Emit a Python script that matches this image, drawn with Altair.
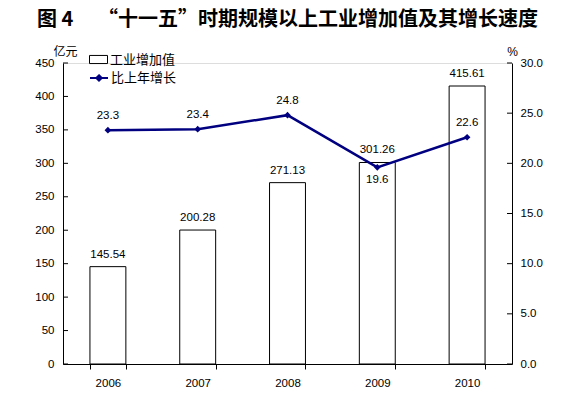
import altair as alt
import pandas as pd

years = ["2006", "2007", "2008", "2009", "2010"]
values = [145.54, 200.28, 271.13, 301.26, 415.61]
growth = [23.3, 23.4, 24.8, 19.6, 22.6]
label_below = [False, False, False, True, False]
left_ticks = [0, 50, 100, 150, 200, 250, 300, 350, 400, 450]
right_ticks = [0, 5, 10, 15, 20, 25, 30]

W, H = 449, 301
NUM_FONT = "Liberation Sans"
CJK_FONT = "Noto Sans CJK SC"
NAVY = "#000080"

df = pd.DataFrame({
    "year": years, "value": values, "growth": growth,
    "below": label_below,
    "s1": ["工业增加值"] * 5, "s2": ["比上年增长"] * 5,
})
lt_df = pd.DataFrame({"t": left_ticks})
rt_df = pd.DataFrame({"t": right_ticks})

xs = alt.Scale(paddingInner=0.6, paddingOuter=0.3)
xaxis = alt.Axis(title=None, labelAngle=0, tickBand="extent", tickSize=5,
                 tickColor="black", domainColor="black", labelFont=NUM_FONT,
                 labelFontSize=11.5, labelColor="black", labelPadding=8, grid=False)
X = alt.X("year:N", scale=xs, axis=xaxis)

yl_scale = alt.Scale(domain=[0, 450], nice=False, zero=True)
yr_scale = alt.Scale(domain=[0, 30], nice=False, zero=True)
yl_axis = alt.Axis(orient="left", values=left_ticks, ticks=False, tickSize=0, grid=False,
                   domainColor="black", labelFont=NUM_FONT, labelFontSize=11.5,
                   labelColor="black", labelPadding=9, title="亿元", titleAngle=0,
                   titleX=2, titleY=-12, titleAlign="center", titleBaseline="middle",
                   titleFont=CJK_FONT, titleFontSize=12, titleFontWeight="normal",
                   titleColor="black")
yr_axis = alt.Axis(orient="right", values=right_ticks, format=".1f", ticks=False, tickSize=0,
                   grid=False, domainColor="black", labelFont=NUM_FONT, labelFontSize=11.5,
                   labelColor="black", labelPadding=8, title="%", titleAngle=0,
                   titleX=0, titleY=-12, titleAlign="center", titleBaseline="middle",
                   titleFont=NUM_FONT, titleFontSize=12, titleFontWeight="normal",
                   titleColor="black")

base = alt.Chart(df)

bars = base.mark_bar(fill="white", strokeWidth=1).encode(
    x=X,
    y=alt.Y("value:Q", scale=yl_scale, axis=yl_axis),
    stroke=alt.Stroke("s1:N", scale=alt.Scale(range=["black"]),
                      legend=alt.Legend(orient="none", legendX=26, legendY=-13, title=None,
                                        symbolType="M-1,-0.45H1V0.45H-1Z", symbolSize=324,
                                        symbolFillColor="white", symbolStrokeWidth=1,
                                        labelFont=CJK_FONT, labelFontSize=13,
                                        labelColor="black", labelOffset=2, padding=0)),
)
bar_text = base.mark_text(dy=-12, baseline="middle", font=NUM_FONT, fontSize=11.5,
                          color="black").encode(
    x=X, y=alt.Y("value:Q", scale=yl_scale, axis=yl_axis),
    text=alt.Text("value:Q", format=".2f"),
)
lticks = alt.Chart(lt_df).mark_rule(color="black", strokeWidth=1).encode(
    y=alt.Y("t:Q", scale=yl_scale, axis=yl_axis),
    x=alt.value(0), x2=alt.value(5),
)

line = base.mark_line(strokeWidth=2.5,
                      point=alt.OverlayMarkDef(shape="diamond", size=45, filled=True,
                                               color=NAVY)).encode(
    x=X,
    y=alt.Y("growth:Q", scale=yr_scale, axis=yr_axis),
    color=alt.Color("s2:N", scale=alt.Scale(range=[NAVY]),
                    legend=alt.Legend(orient="none", legendX=26, legendY=5, title=None,
                                      symbolType="M-1,0H1M0,-0.3L0.3,0L0,0.3L-0.3,0Z",
                                      symbolSize=324, symbolFillColor=NAVY,
                                      symbolStrokeWidth=2,
                                      labelFont=CJK_FONT, labelFontSize=13,
                                      labelColor="black", labelOffset=2, padding=0)),
)
line_text_above = base.transform_filter("!datum.below").mark_text(
    dy=-14, baseline="middle", font=NUM_FONT, fontSize=11.5, color="black").encode(
    x=X, y=alt.Y("growth:Q", scale=yr_scale, axis=yr_axis),
    text=alt.Text("growth:Q", format=".1f"),
)
line_text_below = base.transform_filter("datum.below").mark_text(
    dy=13, baseline="middle", font=NUM_FONT, fontSize=11.5, color="black").encode(
    x=X, y=alt.Y("growth:Q", scale=yr_scale, axis=yr_axis),
    text=alt.Text("growth:Q", format=".1f"),
)
rticks = alt.Chart(rt_df).mark_rule(color="black", strokeWidth=1).encode(
    y=alt.Y("t:Q", scale=yr_scale, axis=yr_axis),
    x=alt.value(W - 5), x2=alt.value(W),
)

left = alt.layer(bars, bar_text, lticks)
right = alt.layer(line, line_text_above, line_text_below, rticks)

chart = alt.layer(left, right).resolve_scale(
    y="independent", color="independent", stroke="independent"
).resolve_legend(color="independent", stroke="independent").properties(
    width=W, height=H,
    title=alt.TitleParams(
        text="图 4　 “十一五”时期规模以上工业增加值及其增长速度",
        font=CJK_FONT, fontSize=20, fontWeight="bold", color="black",
        anchor="middle", frame="group", offset=15),
    autosize=alt.AutoSizeParams(type="none"),
    padding={"left": 55, "right": 62, "top": 55, "bottom": 26},
).configure_view(stroke=None).configure(background="white")

chart.save("out.html", embed_options={"renderer": "svg", "actions": False})
